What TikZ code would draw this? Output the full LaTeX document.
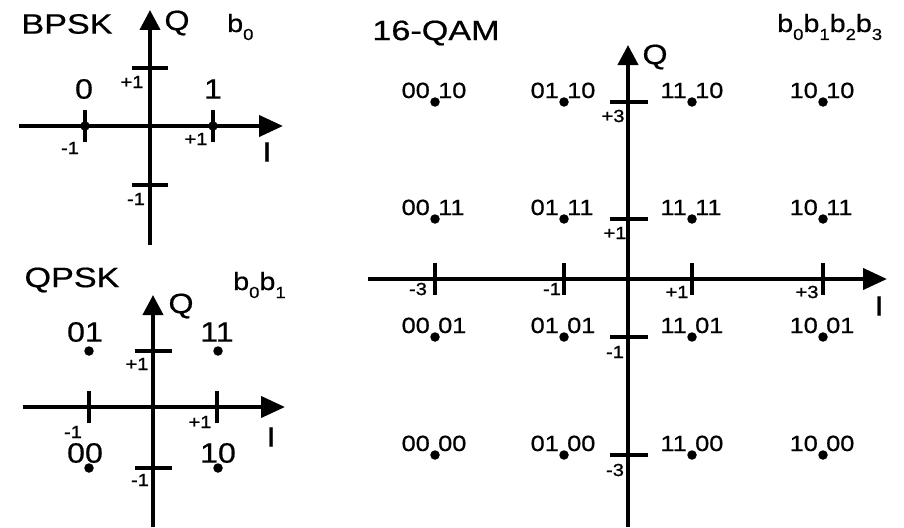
\documentclass[tikz,border=0pt]{standalone}
\usepackage{fontspec}
\setmainfont[FakeStretch=1.15,FakeBold=0.6]{Liberation Sans}
\newfontfamily\titlefont[FakeStretch=1.22,FakeBold=0.6]{Liberation Sans}
\newfontfamily\smallfont[FakeStretch=1.15,FakeBold=1.2]{Liberation Sans}
\usetikzlibrary{arrows.meta}
\newcommand\bsub[1]{\raisebox{-8pt}{\fontsize{16}{16}\selectfont #1}}
\begin{document}
\begin{tikzpicture}[x=1pt,y=-1pt,
  axisI/.style={line width=4pt,-{Triangle[length=24pt,width=21pt]}},
  axisQ/.style={line width=4pt,-{Triangle[length=20pt,width=20pt]}},
  tickmark/.style={line width=4pt},
  dot/.style={circle,fill=black,inner sep=0pt,minimum size=9.5pt},
  big/.style={inner sep=0pt,font=\fontsize{28}{30}\selectfont},
  ttl/.style={inner sep=0pt,font=\titlefont\fontsize{28}{30}\selectfont},
  qam/.style={inner sep=0pt,font=\fontsize{22}{24}\selectfont},
  small/.style={inner sep=0pt,font=\smallfont\fontsize{17.5}{19}\selectfont},
  bits/.style={inner sep=0pt,anchor=base west,font=\fontsize{25}{27}\selectfont}]
\useasboundingbox[fill=white] (0,0) rectangle (904,527);

% ---------------- BPSK ----------------
\coordinate (bL) at (19,126);
\coordinate (bR) at (283,126);
\coordinate (bB) at (150,245);
\coordinate (bT) at (150,10);
\draw[axisI] (bL) -- (bR);
\draw[axisQ] (bB) -- (bT);
\foreach \x in {85,213} \draw[tickmark] (\x,110) -- ++(0,32);
\foreach \y in {68,185} \draw[tickmark] (132,\y) -- ++(36,0);
\node[dot] (bd0) at (85,126) {};
\node[dot] (bd1) at (213,126) {};
\node[big] (bl0) at (84,89) {0};
\node[big] (bl1) at (213,89) {1};
\node[small] (bq1) at (132,82) {+1};
\node[small] (bqm1) at (136,199) {-1};
\node[small] (bim1) at (70,148) {-1};
\node[small] (bi1) at (196,139) {+1};
\node[big] (bQ) at (177,23) {Q};
\node[big] (bI) at (267,152) {I};
\node[ttl] (bttl) at (67,24) {BPSK};
\node[bits] (bbits) at (227,32) {b\bsub{0}};

% ---------------- QPSK ----------------
\coordinate (pL) at (23,407);
\coordinate (pR) at (285,407);
\coordinate (pB) at (153,527);
\coordinate (pT) at (153,295);
\draw[axisI] (pL) -- (pR);
\draw[axisQ] (pB) -- (pT);
\foreach \x in {89,217} \draw[tickmark] (\x,391) -- ++(0,32);
\foreach \y in {351,468} \draw[tickmark] (135,\y) -- ++(37,0);
\node[dot] (pd01) at (89,351) {};
\node[dot] (pd11) at (218,351) {};
\node[dot] (pd00) at (89,468) {};
\node[dot] (pd10) at (218,468) {};
\node[big] (pl01) at (85,332) {01};
\node[big] (pl11) at (217,332) {11};
\node[big] (pl00) at (85,453) {00};
\node[big] (pl10) at (218,453) {10};
\node[small] (pq1) at (137,364) {+1};
\node[small] (pqm1) at (140,480) {-1};
\node[small] (pim1) at (73,432) {-1};
\node[small] (pi1) at (200,422) {+1};
\node[big] (pQ) at (181,306) {Q};
\node[big] (pI) at (271,437) {I};
\node[ttl] (pttl) at (72,280) {QPSK};
\node[bits] (pbits) at (233,290) {b\bsub{0}b\bsub{1}};

% ---------------- 16-QAM ----------------
\coordinate (qL) at (368,279);
\coordinate (qR) at (887,279);
\coordinate (qB) at (628,527);
\coordinate (qT) at (628,45);
\draw[axisI] (qL) -- (qR);
\draw[axisQ] (qB) -- (qT);
\foreach \x in {435,564,692,823} \draw[tickmark] (\x,263) -- ++(0,32);
\foreach \y in {102,219,337,455} \draw[tickmark] (610,\y) -- ++(38,0);
\foreach \x/\a in {435/00,564/01,692/11,823/10}{
  \foreach \y/\b in {102/10,219/11,337/01,455/00}{
    \node[dot] (q-\a-\b) at (\x,\y) {};
    \node[qam,anchor=base east] (qa-\a-\b) at (\x-5,\y-4) {\a};
    \node[qam,anchor=base west] (qb-\a-\b) at (\x+3,\y-4) {\b};
  }
}
\node[small] (qq3) at (613,116) {+3};
\node[small] (qq1) at (615,233) {+1};
\node[small] (qqm1) at (615,352) {-1};
\node[small] (qqm3) at (615,470) {-3};
\node[small] (qim3) at (418,289) {-3};
\node[small] (qim1) at (552,289) {-1};
\node[small] (qi1) at (677,292) {+1};
\node[small] (qi3) at (807,292) {+3};
\node[big] (qQ) at (655,57) {Q};
\node[big] (qI) at (879,306) {I};
\node[ttl] (qttl) at (436,33) {16-QAM};
\node[bits] (qbits) at (777,32) {b\bsub{0}b\bsub{1}b\bsub{2}b\bsub{3}};
\end{tikzpicture}
\end{document}
